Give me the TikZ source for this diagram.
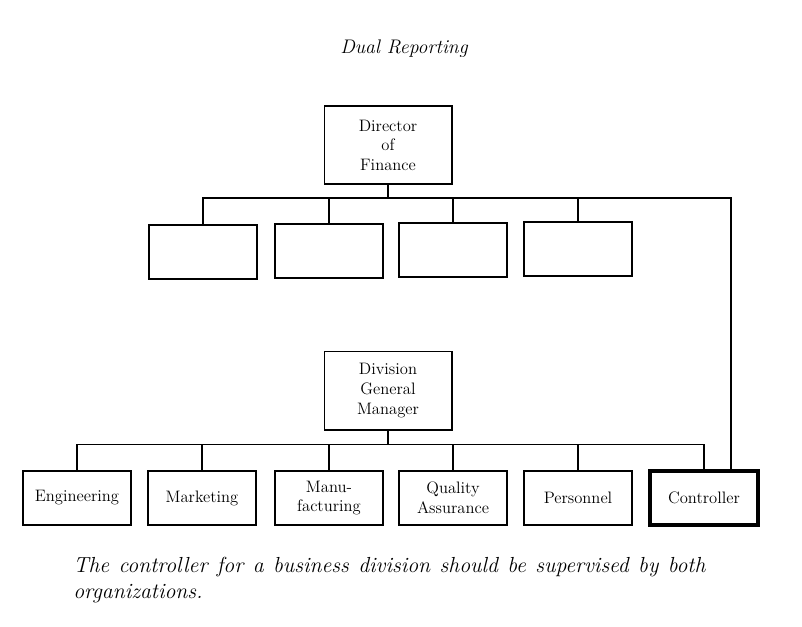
\documentclass[tikz,border=0pt]{standalone}
\usepackage{tikz}
\usetikzlibrary{positioning}
\usetikzlibrary{calc}

\begin{document}
\begin{tikzpicture}[x=0.025cm,y=-0.025cm,
		unit/.style={draw,line width=1.4pt,minimum width=2.7cm,minimum height=1.35cm,inner sep=0pt,align=center,font=\fontsize{11.8}{13.9}\selectfont},
		head/.style={unit,minimum width=3.175cm,minimum height=1.95cm},
		link/.style={line width=1.4pt}]
		\useasboundingbox (0,0) rectangle (802,626);

		\node[anchor=base,font=\fontsize{14}{16}\itshape] (title) at (404,53) {Dual Reporting};

		% finance side
		\node[head] (dir) at (388,145) {Director\\of\\Finance};
		\node[unit] (f1) at (203,252) {};
		\node[unit] (f2) at (329,251) {};
		\node[unit] (f3) at (453,250) {};
		\node[unit] (f4) at (578,249) {};

		% division side
		\node[head] (dgm) at (388,390.5) {Division\\General\\Manager};
		\node[unit] (eng) at (77,498) {Engineering};
		\node[unit] (mkt) at (202,498) {Marketing};
		\node[unit] (manu) at (329,498) {Manu-\\facturing};
		\node[unit] (qa) at (453,498) {Quality\\Assurance};
		\node[unit] (pers) at (578,498) {Personnel};
		\node[unit,line width=2.6pt] (ctrl) at (704,498) {Controller};

		\coordinate (topbus) at (0,198);
		\coordinate (lowbus) at (0,444.5);
		\coordinate (ctrlin) at ($(ctrl.north)+(27,0)$);

		\draw[link] (dir.south) -- (dir.south |- topbus);
		\draw[link] (f1.north) |- (ctrlin |- topbus) -- (ctrlin);
		\foreach \b in {f2,f3,f4}
			\draw[link] (\b.north) -- (\b.north |- topbus);

		\draw[link] (dgm.south) -- (dgm.south |- lowbus);
		\draw[link] (eng.north) |- (ctrl.north |- lowbus) -- (ctrl.north);
		\foreach \b in {mkt,manu,qa,pers}
			\draw[link] (\b.north) -- (\b.north |- lowbus);

		\node[anchor=base west,inner sep=0pt,font=\fontsize{15.5}{18.5}\itshape] (cap1) at (73,572) {\makebox[15.8cm][s]{The controller for a business division should be supervised by both}};
		\node[anchor=base west,inner sep=0pt,font=\fontsize{15.5}{18.5}\itshape] (cap2) at (73,598) {organizations.};
	\end{tikzpicture}
\end{document}
